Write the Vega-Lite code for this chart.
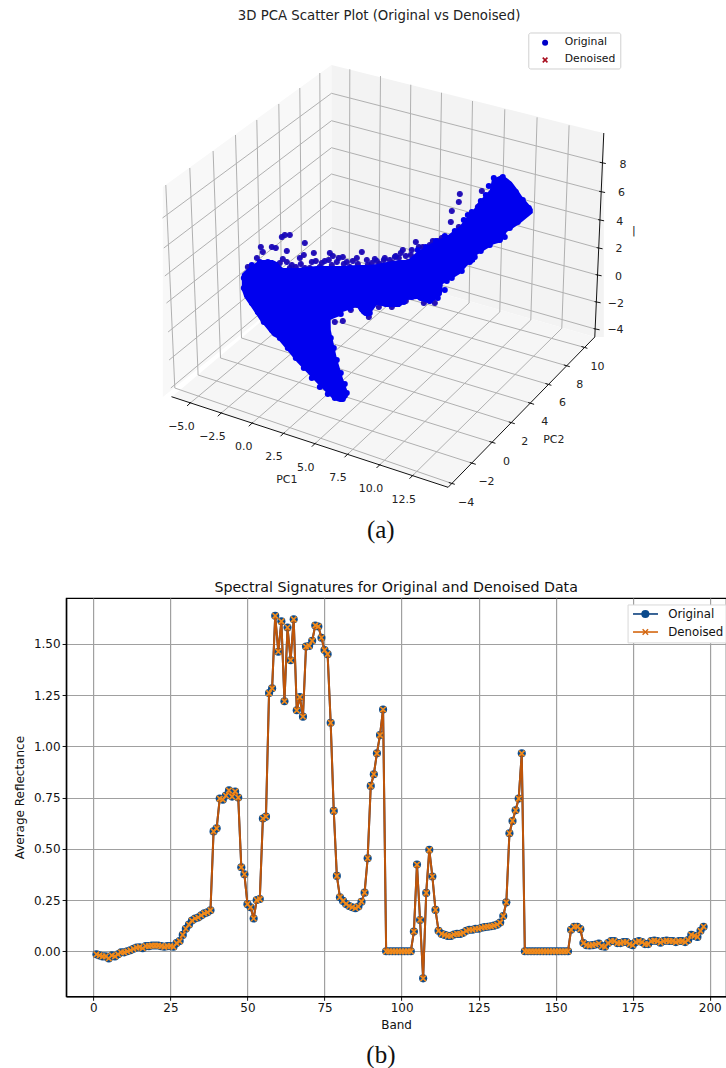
{"$schema":"https://vega.github.io/schema/vega-lite/v6.json","background":"white","padding":{"left":12.1,"top":0,"right":0,"bottom":0},"spacing":10,"config":{"view":{"stroke":null},"font":"DejaVu Sans"},
"datasets":{
"panes":[{"p":"L","u":163,"v":187,"v2":397},{"p":"L","u":331.7,"v":65,"v2":262},{"p":"R","u":331.7,"v":65,"v2":262},{"p":"R","u":595,"v":131,"v2":337},{"p":"R","u":604,"v":133,"v2":337},{"p":"F","u":172,"v":397,"v2":397},{"p":"F","u":331.7,"v":262,"v2":449.2},{"p":"F","u":448.3,"v":295.2,"v2":487.3},{"p":"F","u":595,"v":337,"v2":337}],
"grid3d":[{"u":166,"v":185,"u2":175,"v2":388},{"u":190,"v":168,"u2":198.3,"v2":375},{"u":213.3,"v":151,"u2":220.7,"v2":358},{"u":235.7,"v":135,"u2":241.7,"v2":338},{"u":257,"v":120,"u2":261,"v2":322},{"u":279,"v":104,"u2":282,"v2":305},{"u":300,"v":88,"u2":302,"v2":289},{"u":320,"v":73,"u2":321,"v2":275},
{"u":331.7,"v":93.3,"u2":162.7,"v2":218},{"u":331.7,"v":120.7,"u2":164,"v2":248},{"u":331.7,"v":147.7,"u2":165,"v2":276},{"u":331.7,"v":174,"u2":166.7,"v2":303},{"u":331.7,"v":201,"u2":168.3,"v2":332},{"u":331.7,"v":227.7,"u2":169.3,"v2":360},{"u":331.7,"v":254,"u2":171,"v2":388},
{"u":331.7,"v":93.3,"u2":601.7,"v2":162.7},{"u":331.7,"v":120.7,"u2":601,"v2":191.7},{"u":331.7,"v":147.7,"u2":600,"v2":220},{"u":331.7,"v":174,"u2":598.5,"v2":248},{"u":331.7,"v":201,"u2":597.5,"v2":275},{"u":331.7,"v":227.7,"u2":596.5,"v2":302},{"u":331.7,"v":254,"u2":595.5,"v2":329},
{"u":350,"v":69.3,"u2":349.5,"v2":270},{"u":380.7,"v":76,"u2":379,"v2":279},{"u":411,"v":84.7,"u2":409,"v2":287},{"u":441.7,"v":92.7,"u2":438.5,"v2":295},{"u":472.7,"v":101,"u2":469.3,"v2":303},{"u":505,"v":109.3,"u2":500,"v2":312},{"u":537.3,"v":117.3,"u2":531,"v2":320},{"u":569.3,"v":125.3,"u2":562,"v2":328.3},
{"u":189.3,"v":404,"u2":349.5,"v2":270},{"u":220,"v":414.3,"u2":379,"v2":279},{"u":251,"v":424.3,"u2":409,"v2":287},{"u":282.7,"v":434.3,"u2":438.5,"v2":295},{"u":314,"v":444.7,"u2":469.3,"v2":303},{"u":346.7,"v":455.3,"u2":500,"v2":312},{"u":378.7,"v":466,"u2":531,"v2":320},{"u":411.7,"v":476.7,"u2":562,"v2":328.3},
{"u":451.7,"v":483.3,"u2":175,"v2":388},{"u":472.7,"v":463.3,"u2":198.3,"v2":375},{"u":492.3,"v":442.3,"u2":220.7,"v2":358},{"u":511.7,"v":422.7,"u2":241.7,"v2":338},{"u":531,"v":403.3,"u2":261,"v2":322},{"u":548.3,"v":384.3,"u2":282,"v2":305},{"u":566.7,"v":365.7,"u2":302,"v2":289},{"u":584.3,"v":347.3,"u2":321,"v2":275}],
"axes3d":[{"u":171.7,"v":396.7,"u2":448.3,"v2":487.3},{"u":448.3,"v":487.3,"u2":595,"v2":337},{"u":604,"v":133,"u2":595,"v2":337},
{"u":187.3,"v":406,"u2":191.3,"v2":402},{"u":218,"v":416.3,"u2":222,"v2":412.3},{"u":249,"v":426.3,"u2":253,"v2":422.3},{"u":280.7,"v":436.3,"u2":284.7,"v2":432.3},{"u":312,"v":446.7,"u2":316,"v2":442.7},{"u":344.7,"v":457.3,"u2":348.7,"v2":453.3},{"u":376.7,"v":468,"u2":380.7,"v2":464},{"u":409.7,"v":478.7,"u2":413.7,"v2":474.7},
{"u":449,"v":482.5,"u2":455,"v2":484.3},{"u":470,"v":462.5,"u2":476,"v2":464.3},{"u":489.6,"v":441.5,"u2":495.6,"v2":443.3},{"u":509,"v":421.9,"u2":515,"v2":423.7},{"u":528.3,"v":402.5,"u2":534.3,"v2":404.3},{"u":545.6,"v":383.5,"u2":551.6,"v2":385.3},{"u":564,"v":364.9,"u2":570,"v2":366.7},{"u":581.6,"v":346.5,"u2":587.6,"v2":348.3},
{"u":600,"v":162.3,"u2":606,"v2":163.5},{"u":599.3,"v":191.3,"u2":605.3,"v2":192.5},{"u":598.3,"v":219.6,"u2":604.3,"v2":220.8},{"u":596.8,"v":247.6,"u2":602.8,"v2":248.8},{"u":595.8,"v":274.6,"u2":601.8,"v2":275.8},{"u":594.8,"v":301.6,"u2":600.8,"v2":302.8},{"u":593.8,"v":328.6,"u2":599.8,"v2":329.8}],
"ticklabels":[{"u":181.7,"v":426.7,"t":"−5.0"},{"u":212.7,"v":437.3,"t":"−2.5"},{"u":244,"v":447.3,"t":"0.0"},{"u":274.3,"v":457,"t":"2.5"},{"u":306,"v":468.3,"t":"5.0"},{"u":338.3,"v":478.3,"t":"7.5"},{"u":371.3,"v":489,"t":"10.0"},{"u":404,"v":500,"t":"12.5"},{"u":287,"v":480,"t":"PC1"},
{"u":466.3,"v":503,"t":"−4"},{"u":486.7,"v":482.3,"t":"−2"},{"u":506.7,"v":461.7,"t":"0"},{"u":525,"v":441.7,"t":"2"},{"u":545,"v":422.3,"t":"4"},{"u":562.7,"v":403.3,"t":"6"},{"u":580,"v":385,"t":"8"},{"u":597.7,"v":366.7,"t":"10"},{"u":554,"v":440,"t":"PC2"},
{"u":623.3,"v":165,"t":"8"},{"u":621.7,"v":193,"t":"6"},{"u":620,"v":221.7,"t":"4"},{"u":619.3,"v":249.3,"t":"2"},{"u":618.7,"v":276.7,"t":"0"},{"u":616,"v":304,"t":"−2"},{"u":615.7,"v":330,"t":"−4"},{"u":634,"v":231,"t":"|"}],
"core":[{"s":"A","u":242,"v":274,"v2":290},{"s":"A","u":245,"v":271,"v2":298},{"s":"A","u":250,"v":267,"v2":305},{"s":"A","u":260,"v":260,"v2":320},{"s":"A","u":273,"v":260,"v2":336},{"s":"A","u":277,"v":262,"v2":338},{"s":"A","u":283,"v":268,"v2":345},{"s":"A","u":297,"v":268,"v2":362},{"s":"A","u":317,"v":266,"v2":383},{"s":"A","u":330,"v":266,"v2":396},{"s":"A","u":331,"v":330,"v2":397},{"s":"A","u":332,"v":335,"v2":398},{"s":"A","u":337,"v":358,"v2":401},{"s":"A","u":340,"v":368,"v2":402},{"s":"A","u":343,"v":378,"v2":402},{"s":"A","u":348,"v":392,"v2":397},
{"s":"B","u":325,"v":266,"v2":322},{"s":"B","u":340,"v":266,"v2":316},{"s":"B","u":343,"v":266,"v2":312},{"s":"B","u":357,"v":265,"v2":307},{"s":"B","u":362,"v":265,"v2":314},{"s":"B","u":368,"v":265,"v2":317},{"s":"B","u":377,"v":264,"v2":305},{"s":"B","u":387,"v":262,"v2":307},{"s":"B","u":400,"v":260,"v2":307},{"s":"B","u":408,"v":260,"v2":300},{"s":"B","u":417,"v":252,"v2":299},{"s":"B","u":430,"v":244,"v2":304},{"s":"B","u":442,"v":238,"v2":295},{"s":"B","u":443,"v":238,"v2":284},{"s":"B","u":447,"v":236,"v2":282},{"s":"B","u":460,"v":226,"v2":274},{"s":"B","u":468,"v":216,"v2":265},{"s":"B","u":475,"v":208,"v2":262},{"s":"B","u":477,"v":204,"v2":255},{"s":"B","u":490,"v":190,"v2":247},{"s":"B","u":492,"v":180,"v2":245},{"s":"B","u":495,"v":178,"v2":244},{"s":"B","u":502,"v":175,"v2":242},{"s":"B","u":507,"v":178,"v2":232},{"s":"B","u":512,"v":182,"v2":229},{"s":"B","u":518,"v":190,"v2":225},{"s":"B","u":522,"v":196,"v2":222},{"s":"B","u":533,"v":209,"v2":213}],
"fringe":[{"u":285,"v":235},{"u":282,"v":237},{"u":290,"v":235},{"u":305,"v":243},{"u":261,"v":247},{"u":272,"v":247},{"u":276,"v":248},{"u":287,"v":251},{"u":263,"v":252},{"u":257,"v":258},{"u":314,"v":253},{"u":304,"v":255},{"u":300,"v":258},{"u":330,"v":253},{"u":333,"v":256},{"u":343,"v":257},{"u":362,"v":252},{"u":357,"v":258},{"u":339,"v":258},{"u":367,"v":260},{"u":375,"v":259},{"u":385,"v":258},{"u":395,"v":257},{"u":316,"v":261},{"u":325,"v":261},{"u":283,"v":259},{"u":287,"v":262},{"u":296,"v":267},{"u":332,"v":265},{"u":347,"v":262},{"u":350,"v":267},{"u":362,"v":268},{"u":368,"v":265},{"u":380,"v":264},{"u":310,"v":268},{"u":320,"v":267},{"u":305,"v":268},{"u":248,"v":267},{"u":343,"v":321},{"u":335,"v":322},{"u":369,"v":317},{"u":357,"v":305},{"u":385,"v":303},{"u":460,"v":194},{"u":459,"v":202},{"u":452,"v":211},{"u":451,"v":222},{"u":482,"v":191},{"u":416,"v":242},{"u":419,"v":247},{"u":433,"v":241},{"u":403,"v":250},{"u":401,"v":253},{"u":384,"v":260},{"u":393,"v":263},{"u":408,"v":262},{"u":425,"v":253},{"u":442,"v":238},{"u":447,"v":238},{"u":459,"v":227},{"u":478,"v":207},
{"u":292,"v":265},{"u":301,"v":264},{"u":312,"v":262},{"u":322,"v":263},{"u":329,"v":260},{"u":337,"v":262},{"u":344,"v":264},{"u":353,"v":261},{"u":358,"v":264},{"u":372,"v":263},{"u":377,"v":261},{"u":390,"v":260},{"u":399,"v":258},{"u":406,"v":256},{"u":411,"v":255},{"u":423,"v":247},{"u":430,"v":245},{"u":438,"v":241},{"u":396,"v":256},{"u":412,"v":250},{"u":280,"v":263},{"u":290,"v":268},{"u":379,"v":307},{"u":392,"v":307},{"u":406,"v":301},{"u":424,"v":303},{"u":435,"v":303},{"u":351,"v":310},{"u":362,"v":309}],
"edge":[{"u":497,"v":181},{"u":503,"v":177},{"u":509,"v":184},{"u":516,"v":192},{"u":523,"v":200},{"u":529,"v":208},{"u":526,"v":214},{"u":518,"v":222},{"u":510,"v":228},{"u":505,"v":237},{"u":500,"v":240},{"u":490,"v":245},{"u":481,"v":251},{"u":475,"v":257},{"u":470,"v":262},{"u":462,"v":271},{"u":452,"v":278},{"u":447,"v":281},{"u":445,"v":290},{"u":438,"v":298},{"u":430,"v":301},{"u":421,"v":298},{"u":412,"v":297},{"u":404,"v":302},{"u":395,"v":304},{"u":386,"v":304},{"u":377,"v":302},{"u":370,"v":313},{"u":366,"v":313},{"u":360,"v":305},{"u":350,"v":308},{"u":341,"v":314},{"u":486,"v":195},{"u":489,"v":186},{"u":494,"v":178},{"u":472,"v":212},{"u":464,"v":220},{"u":455,"v":231},{"u":445,"v":236},{"u":436,"v":241},{"u":426,"v":247},{"u":418,"v":250},{"u":481,"v":201},{"u":468,"v":215},{"u":244,"v":278},{"u":244,"v":288},{"u":247,"v":295},{"u":252,"v":303},{"u":258,"v":312},{"u":264,"v":322},{"u":272,"v":330},{"u":280,"v":338},{"u":288,"v":348},{"u":296,"v":358},{"u":304,"v":368},{"u":312,"v":378},{"u":320,"v":387},{"u":328,"v":394},{"u":335,"v":398},{"u":343,"v":399},{"u":347,"v":393},{"u":345,"v":384},{"u":341,"v":373},{"u":337,"v":360},{"u":334,"v":348},{"u":331,"v":338},{"u":252,"v":265},{"u":260,"v":262},{"u":268,"v":262},{"u":276,"v":265}],
"sig":[{"b":1,"r":-0.015},{"b":2,"r":-0.02},{"b":3,"r":-0.025},{"b":4,"r":-0.025},{"b":5,"r":-0.035},{"b":6,"r":-0.02},{"b":7,"r":-0.025},{"b":8,"r":-0.015},{"b":9,"r":-0.005},{"b":10,"r":-0.005},{"b":11,"r":0},{"b":12,"r":0.005},{"b":13,"r":0.012},{"b":14,"r":0.018},{"b":15,"r":0.02},{"b":16,"r":0.015},{"b":17,"r":0.025},{"b":18,"r":0.025},{"b":19,"r":0.028},{"b":20,"r":0.028},{"b":21,"r":0.028},{"b":22,"r":0.025},{"b":23,"r":0.022},{"b":24,"r":0.025},{"b":25,"r":0.025},{"b":26,"r":0.022},{"b":27,"r":0.04},{"b":28,"r":0.05},{"b":29,"r":0.08},{"b":30,"r":0.11},{"b":31,"r":0.13},{"b":32,"r":0.15},{"b":33,"r":0.16},{"b":34,"r":0.165},{"b":35,"r":0.175},{"b":36,"r":0.185},{"b":37,"r":0.19},{"b":38,"r":0.2},{"b":39,"r":0.585},{"b":40,"r":0.6},{"b":41,"r":0.745},{"b":42,"r":0.74},{"b":43,"r":0.76},{"b":44,"r":0.785},{"b":45,"r":0.755},{"b":46,"r":0.78},{"b":47,"r":0.75},{"b":48,"r":0.41},{"b":49,"r":0.376},{"b":50,"r":0.23},{"b":51,"r":0.215},{"b":52,"r":0.16},{"b":53,"r":0.25},{"b":54,"r":0.255},{"b":55,"r":0.648},{"b":56,"r":0.657},{"b":57,"r":1.26},{"b":58,"r":1.283},{"b":59,"r":1.637},{"b":60,"r":1.462},{"b":61,"r":1.61},{"b":62,"r":1.22},{"b":63,"r":1.58},{"b":64,"r":1.42},{"b":65,"r":1.62},{"b":66,"r":1.176},{"b":67,"r":1.24},{"b":68,"r":1.145},{"b":69,"r":1.487},{"b":70,"r":1.49},{"b":71,"r":1.515},{"b":72,"r":1.59},{"b":73,"r":1.585},{"b":74,"r":1.53},{"b":75,"r":1.47},{"b":76,"r":1.45},{"b":77,"r":1.115},{"b":78,"r":0.685},{"b":79,"r":0.368},{"b":80,"r":0.264},{"b":81,"r":0.246},{"b":82,"r":0.231},{"b":83,"r":0.221},{"b":84,"r":0.215},{"b":85,"r":0.21},{"b":86,"r":0.218},{"b":87,"r":0.242},{"b":88,"r":0.286},{"b":89,"r":0.454},{"b":90,"r":0.807},{"b":91,"r":0.864},{"b":92,"r":0.966},{"b":93,"r":1.055},{"b":94,"r":1.18},{"b":95,"r":0},{"b":96,"r":0},{"b":97,"r":0},{"b":98,"r":0},{"b":99,"r":0},{"b":100,"r":0},{"b":101,"r":0},{"b":102,"r":0},{"b":103,"r":0},{"b":104,"r":0.096},{"b":105,"r":0.423},{"b":106,"r":0.153},{"b":107,"r":-0.132},{"b":108,"r":0.285},{"b":109,"r":0.495},{"b":110,"r":0.365},{"b":111,"r":0.202},{"b":112,"r":0.1},{"b":113,"r":0.085},{"b":114,"r":0.08},{"b":115,"r":0.075},{"b":116,"r":0.075},{"b":117,"r":0.082},{"b":118,"r":0.085},{"b":119,"r":0.085},{"b":120,"r":0.09},{"b":121,"r":0.1},{"b":122,"r":0.105},{"b":123,"r":0.105},{"b":124,"r":0.11},{"b":125,"r":0.11},{"b":126,"r":0.115},{"b":127,"r":0.118},{"b":128,"r":0.12},{"b":129,"r":0.122},{"b":130,"r":0.125},{"b":131,"r":0.13},{"b":132,"r":0.14},{"b":133,"r":0.172},{"b":134,"r":0.239},{"b":135,"r":0.576},{"b":136,"r":0.636},{"b":137,"r":0.688},{"b":138,"r":0.745},{"b":139,"r":0.966},{"b":140,"r":0},{"b":141,"r":0},{"b":142,"r":0},{"b":143,"r":0},{"b":144,"r":0},{"b":145,"r":0},{"b":146,"r":0},{"b":147,"r":0},{"b":148,"r":0},{"b":149,"r":0},{"b":150,"r":0},{"b":151,"r":0},{"b":152,"r":0},{"b":153,"r":0},{"b":154,"r":0},{"b":155,"r":0.105},{"b":156,"r":0.12},{"b":157,"r":0.12},{"b":158,"r":0.108},{"b":159,"r":0.04},{"b":160,"r":0.03},{"b":161,"r":0.028},{"b":162,"r":0.03},{"b":163,"r":0.033},{"b":164,"r":0.038},{"b":165,"r":0.025},{"b":166,"r":0.022},{"b":167,"r":0.04},{"b":168,"r":0.05},{"b":169,"r":0.05},{"b":170,"r":0.04},{"b":171,"r":0.04},{"b":172,"r":0.045},{"b":173,"r":0.045},{"b":174,"r":0.035},{"b":175,"r":0.03},{"b":176,"r":0.045},{"b":177,"r":0.05},{"b":178,"r":0.045},{"b":179,"r":0.035},{"b":180,"r":0.035},{"b":181,"r":0.05},{"b":182,"r":0.052},{"b":183,"r":0.05},{"b":184,"r":0.042},{"b":185,"r":0.05},{"b":186,"r":0.052},{"b":187,"r":0.05},{"b":188,"r":0.05},{"b":189,"r":0.045},{"b":190,"r":0.05},{"b":191,"r":0.05},{"b":192,"r":0.045},{"b":193,"r":0.055},{"b":194,"r":0.08},{"b":195,"r":0.075},{"b":196,"r":0.07},{"b":197,"r":0.1},{"b":198,"r":0.12}]
},
"vconcat":[
{"width":660,"height":570,
"encoding":{"x":{"field":"u","type":"quantitative","scale":{"domain":[66.3,726.3]},"axis":null},"y":{"field":"v","type":"quantitative","scale":{"domain":[570,0]},"axis":null}},
"layer":[
{"data":{"name":"panes"},"transform":[{"filter":"datum.p=='L'"}],"mark":{"type":"area","color":"#f8f8f8"},"encoding":{"y2":{"field":"v2"}}},
{"data":{"name":"panes"},"transform":[{"filter":"datum.p=='R'"}],"mark":{"type":"area","color":"#f3f3f3"},"encoding":{"y2":{"field":"v2"}}},
{"data":{"name":"panes"},"transform":[{"filter":"datum.p=='F'"}],"mark":{"type":"area","color":"#f6f6f6"},"encoding":{"y2":{"field":"v2"}}},
{"data":{"name":"grid3d"},"mark":{"type":"rule","color":"#b0b0b0","strokeWidth":1},"encoding":{"x2":{"field":"u2"},"y2":{"field":"v2"}}},
{"data":{"name":"axes3d"},"mark":{"type":"rule","color":"#111111","strokeWidth":1},"encoding":{"x2":{"field":"u2"},"y2":{"field":"v2"}}},
{"data":{"name":"ticklabels"},"mark":{"type":"text","fontSize":11,"font":"DejaVu Sans","color":"#222222","align":"center","baseline":"middle"},"encoding":{"text":{"field":"t"}}},
{"data":{"name":"fringe"},"mark":{"type":"point","shape":"cross","filled":true,"color":"#b01030","size":30},"encoding":{}},
{"data":{"name":"fringe"},"mark":{"type":"point","shape":"circle","filled":true,"color":"#1208c0","opacity":0.9,"size":36},"encoding":{}},
{"data":{"name":"core"},"transform":[{"filter":"datum.s=='A'"}],"mark":{"type":"area","color":"#0000ee"},"encoding":{"y2":{"field":"v2"}}},
{"data":{"name":"core"},"transform":[{"filter":"datum.s=='B'"}],"mark":{"type":"area","color":"#0000ee"},"encoding":{"y2":{"field":"v2"}}},
{"data":{"name":"edge"},"mark":{"type":"point","shape":"circle","filled":true,"color":"#0000ee","opacity":1,"size":36},"encoding":{}},
{"data":{"values":[{"u":529,"u2":621,"v":33,"v2":69}]},"mark":{"type":"rect","fill":"white","stroke":"#d0d0d0","strokeWidth":1,"cornerRadius":2},"encoding":{"x2":{"field":"u2"},"y2":{"field":"v2"}}},
{"data":{"values":[{"u":545.3,"v":42.7}]},"mark":{"type":"point","shape":"circle","filled":true,"color":"#0000c8","opacity":1,"size":36},"encoding":{}},
{"data":{"values":[{"u":545.3,"v":60}]},"mark":{"type":"point","shape":"M-1,-1L1,1M-1,1L1,-1","filled":false,"color":"#a80d1e","opacity":1,"strokeWidth":1.6,"size":22},"encoding":{}},
{"data":{"values":[{"u":565,"v":42,"t":"Original"},{"u":565,"v":59,"t":"Denoised"}]},"mark":{"type":"text","fontSize":10.8,"font":"DejaVu Sans","color":"#111111","align":"left","baseline":"middle"},"encoding":{"text":{"field":"t"}}},
{"data":{"values":[{"u":379.3,"v":16,"t":"3D PCA Scatter Plot (Original vs Denoised)"}]},"mark":{"type":"text","fontSize":13.3,"font":"DejaVu Sans","color":"#222222","align":"center","baseline":"middle"},"encoding":{"text":{"field":"t"}}},
{"data":{"values":[{"u":381,"v":530,"t":"(a)"}]},"mark":{"type":"text","fontSize":25,"font":"Liberation Serif","color":"#111111","align":"center","baseline":"middle"},"encoding":{"text":{"field":"t"}}}
]},
{"width":660,"height":398.3,
"title":{"text":"Spectral Signatures for Original and Denoised Data","fontSize":14.2,"font":"DejaVu Sans","fontWeight":"normal","color":"#111111","anchor":"middle","offset":3},
"encoding":{"x":{"field":"b","type":"quantitative","scale":{"domain":[-8.85,205.3],"nice":false,"zero":false},"axis":{"title":"Band","titleFontSize":12,"titleFont":"DejaVu Sans","titleFontWeight":"normal","titleColor":"#111111","titlePadding":6,"values":[0,25,50,75,100,125,150,175,200],"labelFontSize":12,"labelFont":"DejaVu Sans","labelColor":"#111111","tickColor":"#111111","tickSize":4,"domainColor":"#000000","domainWidth":1.5,"gridColor":"#a0a0a0","gridWidth":1.2,"labelFlush":false}},
"y":{"field":"r","type":"quantitative","scale":{"domain":[-0.2196,1.724],"nice":false,"zero":false},"axis":{"title":"Average Reflectance","titleFontSize":12,"titleFont":"DejaVu Sans","titleFontWeight":"normal","titleColor":"#111111","titlePadding":7,"values":[0,0.25,0.5,0.75,1,1.25,1.5],"format":".2f","labelFontSize":12,"labelFont":"DejaVu Sans","labelColor":"#111111","tickColor":"#111111","tickSize":4,"domainColor":"#000000","domainWidth":1.5,"gridColor":"#a0a0a0","gridWidth":1.2}}},
"view":{"stroke":"#000000","strokeWidth":1.2},
"layer":[
{"data":{"name":"sig"},"mark":{"type":"line","color":"#0b3f7d","strokeWidth":2},"encoding":{}},
{"data":{"name":"sig"},"mark":{"type":"point","shape":"circle","filled":true,"color":"#0b4a8c","opacity":1,"size":66},"encoding":{}},
{"data":{"name":"sig"},"mark":{"type":"line","color":"#bf5509","strokeWidth":2},"encoding":{}},
{"data":{"name":"sig"},"mark":{"type":"point","shape":"M-1,-1L1,1M-1,1L1,-1","filled":false,"color":"#f08a1c","opacity":1,"strokeWidth":1.7,"size":30},"encoding":{}},
{"data":{"values":[{"b":173.5,"b2":205.3,"r":1.69,"r2":1.505}]},"mark":{"type":"rect","fill":"white","stroke":"#d8d8d8","strokeWidth":1},"encoding":{"x2":{"field":"b2"},"y2":{"field":"r2"}}},
{"data":{"values":[{"b":175.1,"b2":183.2,"r":1.646}]},"mark":{"type":"rule","color":"#0b3f7d","strokeWidth":1.6},"encoding":{"x2":{"field":"b2"}}},
{"data":{"values":[{"b":179.1,"r":1.646}]},"mark":{"type":"point","shape":"circle","filled":true,"color":"#0b4a8c","opacity":1,"size":66},"encoding":{}},
{"data":{"values":[{"b":175.1,"b2":183.2,"r":1.558}]},"mark":{"type":"rule","color":"#d4660f","strokeWidth":1.6},"encoding":{"x2":{"field":"b2"}}},
{"data":{"values":[{"b":179.1,"r":1.558}]},"mark":{"type":"point","shape":"M-1,-1L1,1M-1,1L1,-1","filled":false,"color":"#d4660f","opacity":1,"strokeWidth":1.4,"size":30},"encoding":{}},
{"data":{"values":[{"b":186.5,"r":1.646,"t":"Original"},{"b":186.5,"r":1.558,"t":"Denoised"}]},"mark":{"type":"text","fontSize":11.8,"font":"DejaVu Sans","color":"#111111","align":"left","baseline":"middle"},"encoding":{"text":{"field":"t"}}},
{"data":{"values":[{"b":93.3,"r":-0.506,"t":"(b)"}]},"mark":{"type":"text","fontSize":25,"font":"Liberation Serif","color":"#111111","align":"center","baseline":"middle","clip":false},"encoding":{"text":{"field":"t"}}}
]}
]}
